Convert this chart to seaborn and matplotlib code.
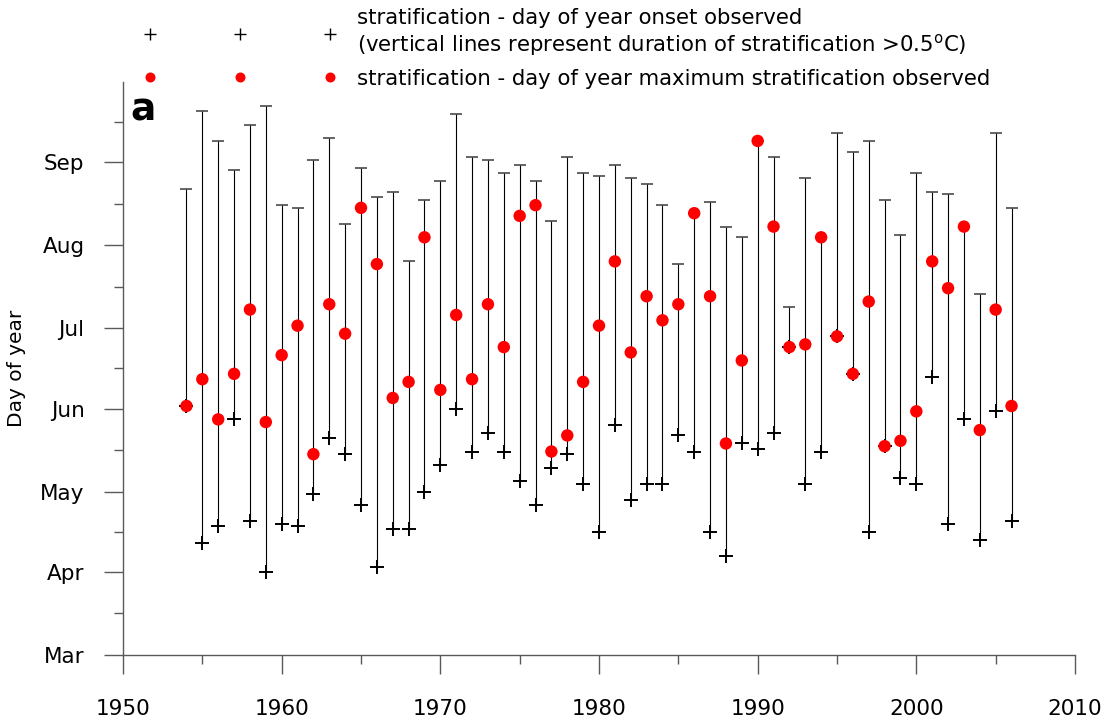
import numpy as np
import pandas as pd
import matplotlib
matplotlib.use("Agg")
import matplotlib.pyplot as plt
from matplotlib.lines import Line2D
import seaborn as sns

# ---------------- data (day of year) ----------------
years = list(range(1954, 2007))
onset_doy = [153, 102, 108, 148, 110, 91, 109, 108, 120, 141,
             135, 116, 93, 107, 107, 121, 131, 152, 136, 143,
             136, 125, 116, 130, 135, 124, 106, 146, 118, 124,
             124, 142, 136, 106, 97, 139, 137, 143, 175, 124,
             136, 179, 165, 106, 138, 126, 124, 164, 109, 148,
             103, 151, 110]
max_doy = [153, 163, 148, 165, 189, 147, 172, 183, 135, 191,
           180, 227, 206, 156, 162, 216, 159, 187, 163, 191,
           175, 224, 228, 136, 142, 162, 183, 207, 173, 194,
           185, 191, 225, 194, 139, 170, 252, 220, 175, 176,
           216, 179, 165, 192, 138, 140, 151, 207, 197, 220,
           144, 189, 153]
end_doy = [234, 263, 252, 241, 258, 265, 228, 227, 245, 253,
           221, 242, 231, 233, 207, 230, 237, 262, 246, 245,
           240, 243, 237, 222, 246, 240, 239, 243, 238, 236,
           228, 206, 225, 229, 220, 216, 252, 246, 190, 238,
           216, 255, 248, 252, 230, 217, 240, 233, 232, 220,
           195, 255, 227]

month_labels = ["Mar", "Apr", "May", "Jun", "Jul", "Aug", "Sep"]
month_start_doy = [60, 91, 121, 152, 182, 213, 244]
year_ticks = [1950, 1960, 1970, 1980, 1990, 2000, 2010]

legend_labels = [
    "stratification - day of year onset observed\n"
    "(vertical lines represent duration of stratification >0.5$^{\\mathrm{o}}$C)",
    "stratification - day of year maximum stratification observed",
]

# ---------------- style ----------------
sns.set_style("ticks")
plt.rcParams["font.family"] = ["DejaVu Sans"]
plt.rcParams["mathtext.fontset"] = "dejavusans"
plt.rcParams["text.color"] = "black"

fig = plt.figure(figsize=(11.1, 7.2), dpi=100)
ax = fig.add_axes([123 / 1110, 1 - 655 / 720, 952 / 1110, 573 / 720])

df = pd.DataFrame({"year": years, "onset": onset_doy,
                   "max": max_doy, "end": end_doy})

ax.vlines(df["year"], df["onset"], df["end"], color="black",
          linewidth=0.8, zorder=2)
sns.scatterplot(data=df, x="year", y="end", marker="_", s=75,
                color="#3a3a3a", linewidth=1.1, ax=ax, zorder=3, legend=False)
sns.scatterplot(data=df, x="year", y="onset", marker="+", s=90,
                color="black", linewidth=1.4, ax=ax, zorder=4, legend=False)
sns.scatterplot(data=df, x="year", y="max", marker="o", s=80,
                color="#ff0000", edgecolor="none", linewidth=0,
                ax=ax, zorder=5, legend=False)

# ---------------- axes ----------------
ax.set_xlim(1950, 2010)
ax.set_ylim(60, 274)
ax.set_xticks(year_ticks)
ax.set_xticks(np.arange(1955, 2010, 10), minor=True)
ax.set_yticks(month_start_doy)
ax.set_yticklabels(month_labels)
bounds = month_start_doy + [274]
ax.set_yticks([(a + b) / 2 for a, b in zip(bounds[:-1], bounds[1:])], minor=True)

for s in ["top", "right"]:
    ax.spines[s].set_visible(False)
for s in ["left", "bottom"]:
    ax.spines[s].set_color("#5a5a5a")
    ax.spines[s].set_linewidth(1.0)

ax.tick_params(which="major", direction="out", length=13.7, width=1.0,
               color="#5a5a5a", labelsize=15.5, labelcolor="black")
ax.tick_params(axis="y", which="major", pad=14)
ax.tick_params(axis="x", which="major", pad=18)
ax.tick_params(which="minor", direction="out", length=6.5, width=1.0,
               color="#5a5a5a")

ax.set_xlabel("")
ax.set_ylabel("Day of year", fontsize=14.5, color="black", labelpad=10)

ax.text(0.0075, 0.932, "a", transform=ax.transAxes, fontsize=27,
        fontweight="bold", ha="left", va="baseline", color="black")

# ---------------- legend ----------------
h1 = Line2D([], [], linestyle="none", marker="+", color="black",
            markersize=9, markeredgewidth=1.0)
h2 = Line2D([], [], linestyle="none", marker="o", color="#ff0000",
            markersize=7.2, markeredgewidth=0)
fs = 15.3
ax.legend([h1, h2], legend_labels, loc="upper left",
          bbox_to_anchor=(143.5 / 1110, 1 - 8 / 720),
          bbox_transform=fig.transFigure, numpoints=3,
          handlelength=9.07, handletextpad=1.0, labelspacing=0.5,
          frameon=False, borderpad=0, borderaxespad=0, fontsize=fs,
          labelcolor="black")

fig.savefig("out.png", dpi=100)
